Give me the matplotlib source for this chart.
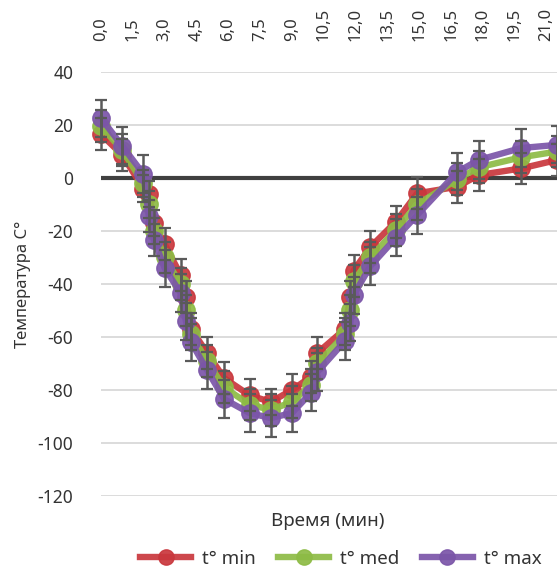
import matplotlib
matplotlib.use("Agg")
import matplotlib.pyplot as plt
from matplotlib.lines import Line2D

plt.rcParams["font.family"] = ["Noto Sans", "DejaVu Sans"]
plt.rcParams["axes.unicode_minus"] = False

# time points (min)
times = [0, 1, 2, 2.25, 2.5, 3, 3.75, 4, 4.25, 5, 5.8, 7, 8, 9, 9.9, 10.2,
         11.5, 11.75, 11.9, 12.7, 13.9, 14.9, 16.8, 17.8, 19.8, 21.5]

t_min = [16.5, 8.7, -4, -6, -17, -25, -36.5, -45, -57, -66, -75.5, -82, -84.5, -80,
         -75, -66, -57, -45, -35, -26, -16.5, -5.8, -3.3, 1.1, 3.6, 6.8]
t_med = [19.5, 10.5, -2, -10, -20, -30, -40, -50, -59, -69, -79, -85.5, -87.5, -84.5,
         -78, -70, -59, -50, -39, -30, -19.5, -10, -0.5, 4, 7.8, 10]
t_max = [22.6, 12.1, 1.5, -14.3, -23.4, -34, -43.4, -54, -62, -72.5, -83.4, -88.7, -90.6,
         -88.7, -81, -73.2, -61.5, -54.7, -44.2, -33.2, -22.6, -14, 2.3, 6.8, 11.3, 12.5]

err_min = [6, 6, 5, 5, 5, 6, 6, 6, 6, 6, 6, 6, 5, 6, 6, 6, 6, 6, 6, 6, 6, 6, 6, 6, 6, 6]
err_med = [6, 6, 5, 5, 5, 6, 6, 6, 6, 6, 6, 6, 6, 6, 6, 6, 6, 6, 6, 6, 6, 6, 6, 6, 6, 6]
err_max = [7, 7, 7, 6, 6, 7, 7, 7, 7, 7, 7, 7, 7, 7, 7, 7, 7, 7, 7, 7, 7, 7, 7, 7, 7, 7]

tick_pos = [0, 1.5, 3, 4.5, 6, 7.5, 9, 10.5, 12, 13.5, 15, 16.5, 18, 19.5, 21]
tick_labels = ["0,0", "1,5", "3,0", "4,5", "6,0", "7,5", "9,0", "10,5", "12,0",
               "13,5", "15,0", "16,5", "18,0", "19,5", "21,0"]

series = [
    ("t° min", t_min, err_min, "#C9373D"),
    ("t° med", t_med, err_med, "#8DBB45"),
    ("t° max", t_max, err_max, "#7B55A8"),
]

fig = plt.figure(figsize=(5.57, 5.74), dpi=100)
ax = fig.add_axes([0.1813, 0.1359, 0.8187, 0.7387])

ax.set_xlim(0, 21.49)
ax.set_ylim(-120, 40)
ax.set_yticks(range(-120, 41, 20))
ax.yaxis.grid(True, color="#D9D9D9", linewidth=1.3)
ax.set_axisbelow(True)
for s in ax.spines.values():
    s.set_visible(False)
ax.axhline(0, color="#404040", linewidth=3, zorder=2)

for i, (name, vals, err, col) in enumerate(series):
    ax.plot(times, vals, color=col, linewidth=4.6, marker="o", markersize=12.5,
            alpha=0.92, clip_on=False, zorder=3 + i, solid_joinstyle="round")

for i, (name, vals, err, col) in enumerate(series):
    ax.errorbar(times, vals, yerr=err, fmt="none", ecolor="#5A5A5A",
                elinewidth=1.8, capsize=4.5, capthick=1.6, zorder=7, clip_on=False)

ax.xaxis.tick_top()
ax.set_xticks(tick_pos)
ax.set_xticklabels(tick_labels, rotation=90, fontsize=12, color="#333333")
ax.tick_params(axis="x", length=0, pad=22)
ax.tick_params(axis="y", length=0, pad=20, labelsize=12.5, labelcolor="#333333")

ax.set_ylabel("Температура С°", fontsize=12, color="#333333")
ax.yaxis.set_label_coords(-0.153, 0.5)
fig.text(0.588, 0.092, "Время (мин)", ha="center", va="center",
         fontsize=13.5, color="#333333")

handles = [Line2D([0], [0], color=c, linewidth=4.6, marker="o", markersize=11,
                  alpha=0.92) for _, _, _, c in series]
fig.legend(handles, [s[0] for s in series], loc="center", ncol=3,
           bbox_to_anchor=(0.612, 0.027), frameon=False, fontsize=13.5,
           handlelength=2.7, columnspacing=1.2, handletextpad=0.6,
           labelcolor="#333333")

fig.savefig("out.png", dpi=100)
